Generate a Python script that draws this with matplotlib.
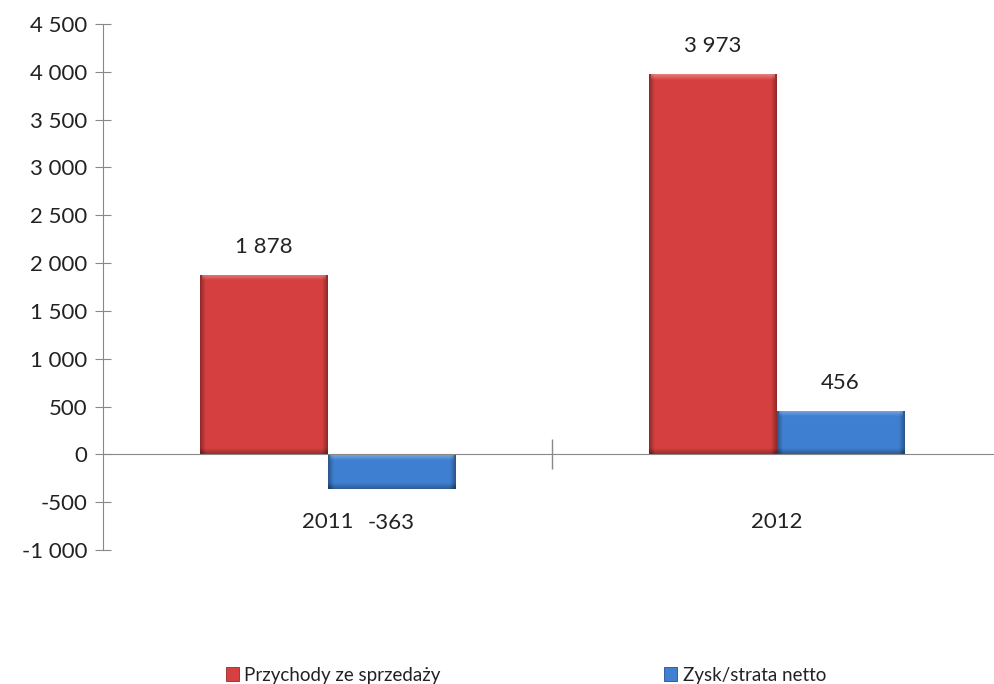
import numpy as np
import matplotlib
matplotlib.use("Agg")
import matplotlib.pyplot as plt
from matplotlib.patches import Patch
from matplotlib.ticker import FuncFormatter, FixedLocator

lata = ["2011", "2012"]
przychody = [1878, 3973]
zysk = [-363, 456]
serie = ["Przychody ze sprzedaży", "Zysk/strata netto"]

czerwony = (0.84, 0.25, 0.25)
niebieski = (0.25, 0.50, 0.82)

plt.rcParams['font.family'] = ['Lato', 'DejaVu Sans']
plt.rcParams['font.size'] = 16

fig = plt.figure(figsize=(9.94, 6.84), dpi=100)
ax = fig.add_axes([103 / 994, 1 - 550 / 684, 898 / 994, 526 / 684])

x = np.arange(len(lata))
w = 0.285
ax.set_xlim(-0.5, 1.5)
ax.set_ylim(-1000, 4500)


def fmt(v):
    # spacja jako separator tysiecy
    s = f"{abs(int(round(v))):,}".replace(",", " ")
    return ("-" if v < 0 else "") + s


def bevel(bar, kolor):
    # cieniowanie krawedzi slupka (efekt wypuklosci)
    x0, y0 = bar.get_x(), bar.get_y()
    x1, y1 = x0 + bar.get_width(), y0 + bar.get_height()
    p0 = ax.transData.transform((x0, min(y0, y1)))
    p1 = ax.transData.transform((x1, max(y0, y1)))
    wpx, hpx = abs(p1[0] - p0[0]), abs(p1[1] - p0[1])
    nx, ny = int(wpx), max(int(hpx), 2)
    xx = np.arange(nx)[None, :] + 0.5
    yy = np.arange(ny)[:, None] + 0.5
    b = 6.0
    dl = np.clip(xx / b, 0, 1)
    dr = np.clip((nx - xx) / b, 0, 1)
    dt = np.clip(yy / b, 0, 1)
    db = np.clip((ny - yy) / b, 0, 1)
    base = np.array(kolor)
    img = np.ones((ny, nx, 3)) * base
    f = 1.0 - 0.35 * (1 - dl) - 0.35 * (1 - dr) - 0.3 * (1 - db)
    img = img * np.clip(f, 0.5, 1)[..., None]
    top = (1 - dt) * (dl > 0.4) * (dr > 0.4)
    img = img + (1 - img) * 0.35 * top[..., None]
    im = ax.imshow(np.clip(img, 0, 1), extent=(x0, x1, min(y0, y1), max(y0, y1)),
                   origin='upper', aspect='auto', zorder=3, interpolation='bilinear')
    im.set_clip_path(bar)


bars1 = ax.bar(x - w / 2, przychody, w, color=czerwony, zorder=2, linewidth=0)
bars2 = ax.bar(x + w / 2, zysk, w, color=niebieski, zorder=2, linewidth=0)
for b in bars1:
    bevel(b, czerwony)
for b in bars2:
    bevel(b, niebieski)

for bars, vals in ((bars1, przychody), (bars2, zysk)):
    for b, v in zip(bars, vals):
        off = 28 if v >= 0 else -34
        ax.annotate(fmt(v), (b.get_x() + b.get_width() / 2, v),
                    xytext=(0, off), textcoords='offset pixels',
                    ha='center', va='center', color='#222222', fontsize=16)

for xi, rok in zip(x, lata):
    ax.annotate(rok, (xi, 0), xytext=(0, -68), textcoords='offset pixels',
                ha='center', va='center', color='#222222', fontsize=16)

ax.set_xticks([])
ax.xaxis.set_minor_locator(FixedLocator([0.5]))
ax.tick_params(axis='x', which='minor', direction='inout', length=22,
               color='#888888', width=1)
ax.set_yticks(np.arange(-1000, 4501, 500))
ax.yaxis.set_major_formatter(FuncFormatter(lambda v, p: fmt(v)))
ax.tick_params(axis='y', direction='inout', length=12, color='#888888',
               labelsize=16, labelcolor='#222222', pad=5)

for s in ('top', 'right'):
    ax.spines[s].set_visible(False)
ax.spines['bottom'].set_position(('data', 0))
ax.spines['bottom'].set_color('#888888')
ax.spines['left'].set_color('#888888')
ax.spines['bottom'].set_zorder(4)

uchwyty = [Patch(facecolor=czerwony, edgecolor=(0.6, 0.15, 0.15), linewidth=0.6),
           Patch(facecolor=niebieski, edgecolor=(0.15, 0.3, 0.6), linewidth=0.6)]
fig.legend(uchwyty, serie, loc='center', bbox_to_anchor=(0.529, 0.013), ncol=2,
           frameon=False, handlelength=0.7, handleheight=0.75, handletextpad=0.3,
           columnspacing=11.9, labelcolor='#222222', fontsize=13.5)

fig.savefig("out.png", dpi=100)
